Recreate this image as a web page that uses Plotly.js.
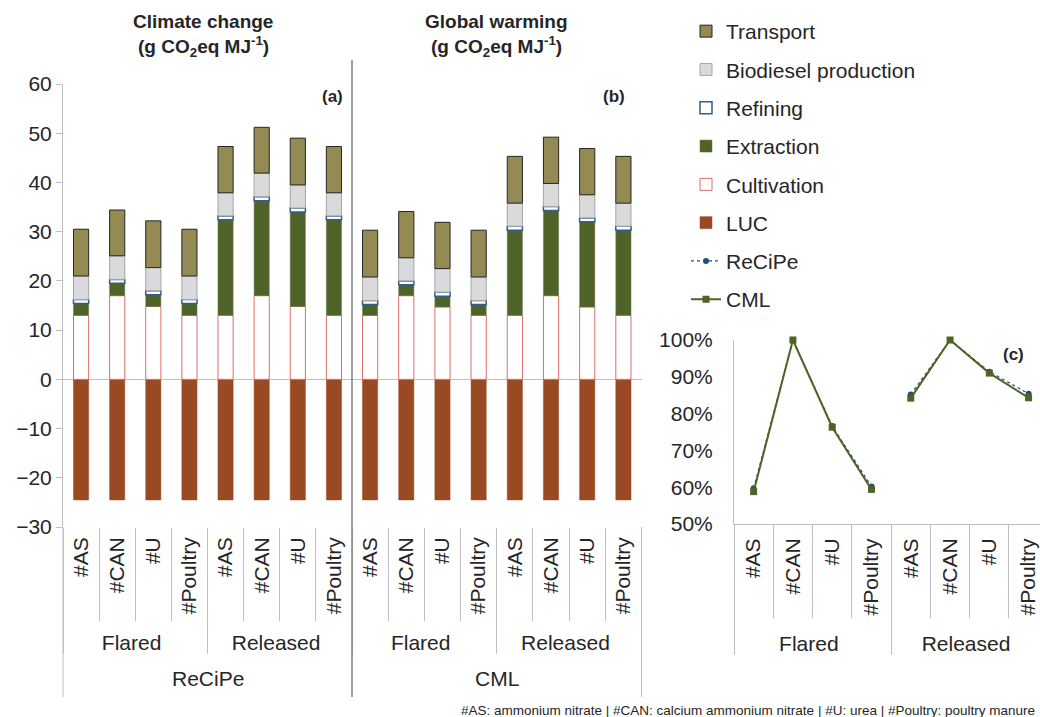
<!DOCTYPE html>
<html>
<head>
<meta charset="utf-8">
<script src="https://cdn.plot.ly/plotly-3.0.1.min.js"></script>
<style>html,body{margin:0;padding:0;background:#fff;}#chart{width:1040px;height:717px;}</style>
</head>
<body>
<div id="chart"></div>
<script>
// ---------- data ----------
const fertilizers = ["#AS", "#CAN", "#U", "#Poultry"];
const scenarios = ["Flared", "Released"];
const methods = ["ReCiPe", "CML"];
const components = ["LUC", "Cultivation", "Extraction", "Refining", "Biodiesel production", "Transport"];

// Panel (a) ReCiPe climate change, g CO2eq/MJ (Flared AS,CAN,U,Poultry, Released AS,CAN,U,Poultry)
const lucA = [-24.5, -24.5, -24.5, -24.5, -24.5, -24.5, -24.5, -24.5];
const cultA = [13.0, 17.0, 14.8, 13.0, 13.0, 17.0, 14.8, 13.0];
const extrA = [2.4, 2.5, 2.4, 2.4, 19.4, 19.3, 19.2, 19.4];
const refA = [0.8, 0.8, 0.8, 0.8, 0.8, 0.8, 0.8, 0.8];
const bioA = [4.8, 4.8, 4.7, 4.8, 4.7, 4.8, 4.7, 4.7];
const transA = [9.5, 9.3, 9.5, 9.5, 9.4, 9.3, 9.5, 9.4];

// Panel (b) CML global warming
const lucB = [-24.5, -24.5, -24.5, -24.5, -24.5, -24.5, -24.5, -24.5];
const cultB = [13.0, 17.0, 14.7, 13.0, 13.0, 17.0, 14.7, 13.0];
const extrB = [2.2, 2.2, 2.2, 2.2, 17.3, 17.3, 17.3, 17.3];
const refB = [0.8, 0.8, 0.8, 0.8, 0.8, 0.8, 0.8, 0.8];
const bioB = [4.8, 4.7, 4.8, 4.8, 4.7, 4.7, 4.7, 4.7];
const transB = [9.5, 9.4, 9.4, 9.5, 9.5, 9.4, 9.4, 9.5];

// Panel (c) relative net result (share of #CAN)
const recipeShare = [0.597, 1.0, 0.766, 0.602, 0.852, 1.0, 0.914, 0.854];
const cmlShare = [0.588, 1.0, 0.763, 0.594, 0.842, 1.0, 0.910, 0.843];

const footnote = "#AS: ammonium nitrate | #CAN: calcium ammonium nitrate | #U: urea | #Poultry: poultry manure";

// ---------- styles ----------
const FONT = "Liberation Sans, Arial, sans-serif";
const TXT = "#262626";
const GRID = "#BFBFBF";
const styles = {
  "LUC": {color: "#9A4A22", line: {color: "#9A4A22", width: 0.5}},
  "Cultivation": {color: "#FFFFFF", line: {color: "#E06C6C", width: 1}},
  "Extraction": {color: "#4F6228", line: {color: "#6B7B4A", width: 0.5}},
  "Refining": {color: "#FFFFFF", line: {color: "#2F5E93", width: 1.5}},
  "Biodiesel production": {color: "#D9DADC", line: {color: "#A6A6A6", width: 1}},
  "Transport": {color: "#948A54", line: {color: "#262626", width: 1}}
};
const legendRank = {"Transport": 1, "Biodiesel production": 2, "Refining": 3, "Extraction": 4, "Cultivation": 5, "LUC": 6};

const xOuter = scenarios.flatMap(s => fertilizers.map(() => s));
const xInner = scenarios.flatMap(() => fertilizers);
const xMulti = [xOuter, xInner];

const seriesA = [lucA, cultA, extrA, refA, bioA, transA];
const seriesB = [lucB, cultB, extrB, refB, bioB, transB];

const traces = [];
[[seriesA, "x", true], [seriesB, "x2", false]].forEach(([series, xa, show]) => {
  components.forEach((name, i) => {
    traces.push({
      type: "bar", name: name, x: xMulti, y: series[i],
      xaxis: xa, yaxis: "y",
      marker: styles[name],
      legendgroup: name, showlegend: show, legendrank: legendRank[name],
      hoverinfo: "y+name"
    });
  });
});

// panel (c) lines, one trace per scenario so groups are not joined
const lineDefs = [
  {name: "ReCiPe", vals: recipeShare, color: "#1F4E79", dash: "dot", symbol: "circle", size: 6, width: 1.2, rank: 7},
  {name: "CML", vals: cmlShare, color: "#4F6228", dash: "solid", symbol: "square", size: 7, width: 2, rank: 8}
];
lineDefs.forEach(d => {
  scenarios.forEach((s, si) => {
    traces.push({
      type: "scatter", mode: "lines+markers", name: d.name,
      x: [fertilizers.map(() => s), fertilizers],
      y: d.vals.slice(si * fertilizers.length, (si + 1) * fertilizers.length),
      xaxis: "x3", yaxis: "y2",
      line: {color: d.color, dash: d.dash, width: d.width},
      marker: {color: d.color, symbol: d.symbol, size: d.size},
      legendgroup: d.name, showlegend: si === 0, legendrank: d.rank,
      cliponaxis: false
    });
  });
});

// ---------- layout ----------
const W = 1040, H = 717;
const px = v => v / W;
const py = v => 1 - v / H;

const catAxis = (domain, anchor) => ({
  type: "multicategory", domain: domain, anchor: anchor,
  tickangle: -90, ticks: "outside", tickson: "boundaries", ticklen: 93,
  tickcolor: GRID, tickwidth: 1,
  ticklabelstandoff: 5,
  showline: false, showgrid: false, zeroline: false,
  showdividers: true, dividercolor: GRID, dividerwidth: 1,
  tickfont: {family: FONT, size: 21, color: TXT},
  automargin: false, fixedrange: true
});

const ann = (text, x, y, size, extra) => Object.assign({
  text: text, xref: "paper", yref: "paper", x: px(x), y: py(y),
  xanchor: "center", yanchor: "middle", showarrow: false,
  font: {family: FONT, size: size, color: TXT}
}, extra || {});

const layout = {
  width: W, height: H,
  margin: {l: 0, r: 0, t: 0, b: 0, autoexpand: false},
  paper_bgcolor: "#fff", plot_bgcolor: "rgba(0,0,0,0)",
  font: {family: FONT, size: 21, color: TXT},
  barmode: "relative", bargap: 0.58,
  showlegend: true,
  legend: {
    x: px(686), y: py(11), xanchor: "left", yanchor: "top",
    traceorder: "grouped", tracegroupgap: 8,
    font: {family: FONT, size: 21, color: TXT},
    bgcolor: "rgba(0,0,0,0)", itemwidth: 30
  },
  xaxis: catAxis([px(63), px(352)], "y"),
  xaxis2: catAxis([px(352), px(641.5)], "y"),
  xaxis3: Object.assign(catAxis([px(734), 1], "y2"), {range: [-0.5, 7.29], showline: true, linecolor: GRID}),
  yaxis: {
    domain: [py(527), py(84)], anchor: "x", range: [-30, 60], dtick: 10,
    showline: true, linecolor: GRID, linewidth: 1,
    ticks: "outside", ticklen: 6, tickcolor: GRID,
    zeroline: true, zerolinecolor: GRID, zerolinewidth: 1.5,
    showgrid: false, tickfont: {family: FONT, size: 21, color: TXT},
    automargin: false, fixedrange: true
  },
  yaxis2: {
    domain: [py(524), py(340)], anchor: "x3", range: [0.5, 1.0], dtick: 0.1, tickformat: ".0%",
    showline: true, linecolor: GRID, linewidth: 1,
    ticks: "outside", ticklen: 16, tickcolor: "rgba(0,0,0,0)",
    zeroline: false, showgrid: false, tickfont: {family: FONT, size: 21, color: TXT},
    automargin: false, fixedrange: true
  },
  annotations: [
    ann("<b>Climate change</b>", 203, 22, 19),
    ann("<b>(g CO<sub>2</sub>eq MJ<sup>-1</sup>)</b>", 203, 46, 19),
    ann("<b>Global warming</b>", 496, 22, 19),
    ann("<b>(g CO<sub>2</sub>eq MJ<sup>-1</sup>)</b>", 496, 46, 19),
    ann("<b>(a)</b>", 332, 97, 17),
    ann("<b>(b)</b>", 614, 97, 17),
    ann("<b>(c)</b>", 1013, 354, 17),
    ann(methods[0], 0, 678, 21, {xref: "x domain", x: 0.5}),
    ann(methods[1], 0, 678, 21, {xref: "x2 domain", x: 0.5}),
    ann(footnote, 1037, 710, 13.5, {xanchor: "right"})
  ],
  shapes: [
    {type: "line", xref: "x domain", yref: "paper", x0: 0, x1: 0, y0: py(527), y1: py(697), line: {color: GRID, width: 1}},
    {type: "line", xref: "x2 domain", yref: "paper", x0: 1, x1: 1, y0: py(527), y1: py(697), line: {color: GRID, width: 1}},
    {type: "line", xref: "x domain", yref: "paper", x0: 1, x1: 1, y0: py(60), y1: py(697), line: {color: "#808080", width: 1.5}}
  ]
};

Plotly.newPlot("chart", traces, layout, {displayModeBar: false, staticPlot: true});
</script>
</body>
</html>
